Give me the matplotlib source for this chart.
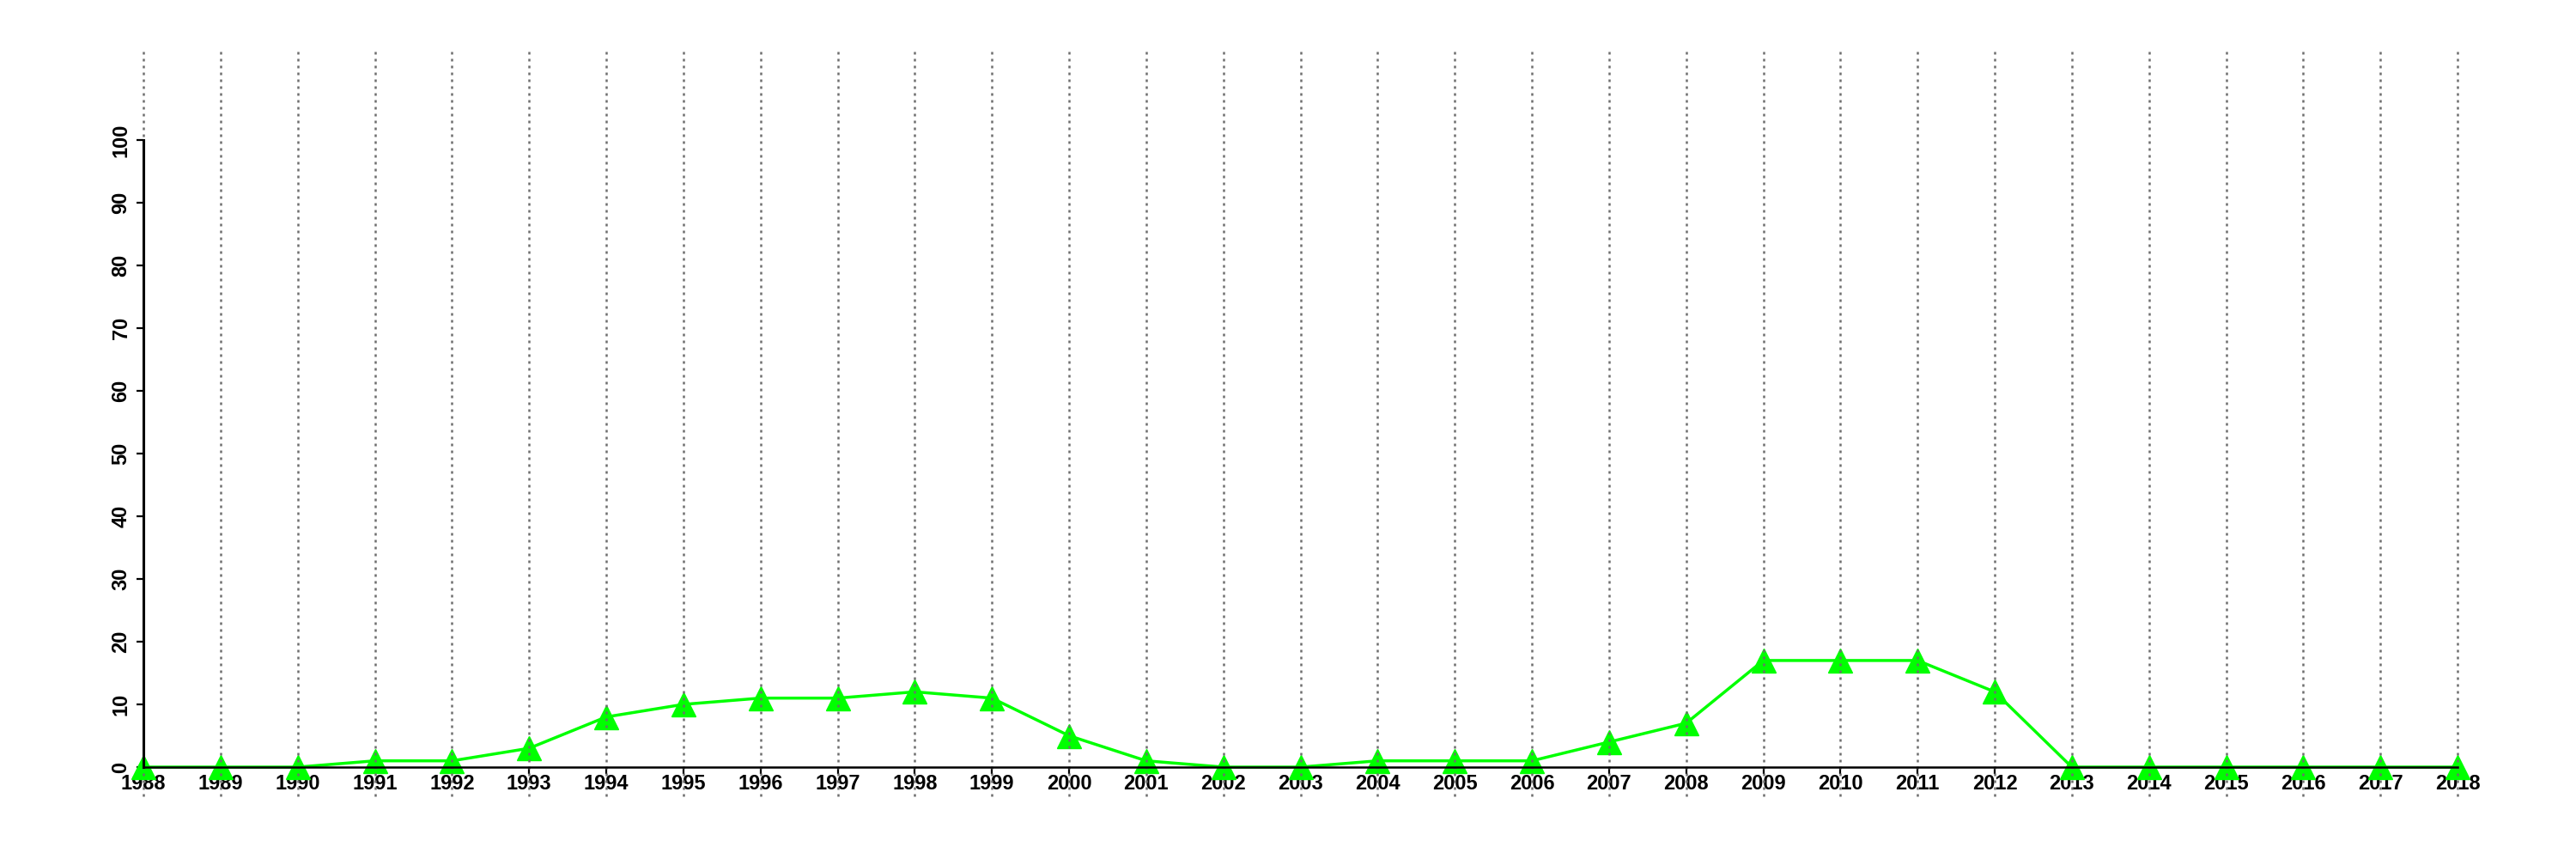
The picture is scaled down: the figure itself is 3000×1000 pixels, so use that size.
import matplotlib
matplotlib.use("Agg")
import matplotlib.pyplot as plt

years = list(range(1988, 2019))
values = [0, 0, 0, 1, 1, 3, 8, 10, 11, 11, 12, 11, 5, 1, 0,
          0, 1, 1, 1, 4, 7, 17, 17, 17, 12, 0, 0, 0, 0, 0, 0]
yticks = list(range(0, 101, 10))

plt.rcParams['font.family'] = ['Liberation Sans', 'DejaVu Sans']
plt.rcParams['font.weight'] = 'bold'

fig = plt.figure(figsize=(30, 10), dpi=100)
ax = fig.add_axes([0.0557, 0.107, 0.8983, 0.730])

ax.plot(years, values, color='#00ff00', lw=2.5, marker='^', markersize=20,
        clip_on=False, zorder=2)
# dotted year lines running past the plot area
ax.vlines(years, -4.7, 114.5, colors='#6e6e6e', linestyles=(0, (1.2, 2.0)),
          lw=1.8, clip_on=False, zorder=3)

ax.set_xlim(1988, 2018)
ax.set_ylim(0, 100)
ax.set_xticks(years)
ax.set_xticklabels([str(y) for y in years], fontsize=17, fontweight='bold')
ax.set_yticks(yticks)
ax.set_yticklabels([str(v) for v in yticks], fontsize=17, fontweight='bold',
                   rotation=90, va='center')
ax.tick_params(axis='both', length=5.5, width=1.6)
ax.tick_params(axis='x', pad=0.5)
ax.tick_params(axis='y', pad=5)

for s in ['top', 'right']:
    ax.spines[s].set_visible(False)
ax.spines['left'].set_linewidth(2.2)
ax.spines['bottom'].set_linewidth(1.8)
ax.spines['left'].set_zorder(4)
ax.spines['bottom'].set_zorder(4)

fig.savefig('out.png', dpi=100)
